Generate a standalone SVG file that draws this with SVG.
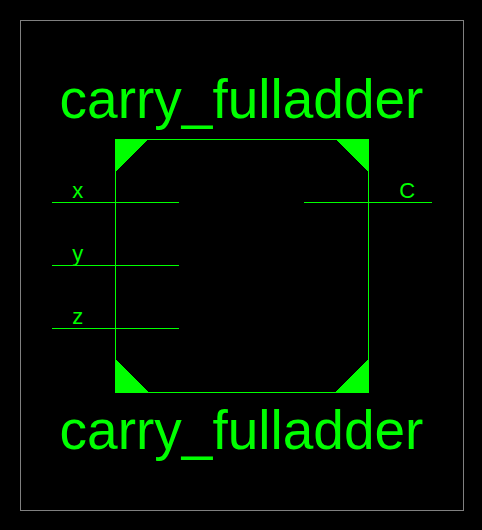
<svg xmlns="http://www.w3.org/2000/svg" width="482" height="530" viewBox="0 0 482 530">
<style>
.w{stroke:#0f0;stroke-width:1;fill:none;shape-rendering:crispEdges}
.c{fill:#0f0;stroke:none;shape-rendering:crispEdges}
.t{fill:#0f0;font-family:"Liberation Sans",Arial,sans-serif}
.big{font-size:55px;text-anchor:middle}
.pin{font-size:22px;text-anchor:middle}
</style>
<rect width="482" height="530" fill="#000"/>
<rect x="20.5" y="20.5" width="443" height="490" fill="none" stroke="#808080" stroke-width="1" shape-rendering="crispEdges"/>
<g id="cell">
<rect class="w" x="115.5" y="139.5" width="253" height="253"/>
<polygon class="c" points="115,139 149,139 115,172"/>
<polygon class="c" points="335,139 369,139 369,173"/>
<polygon class="c" points="115,359 150,393 115,393"/>
<polygon class="c" points="369,358 369,393 334,393"/>
<text class="t big" x="241.500" y="118">carry_fulladder</text>
<text class="t big" x="241.500" y="449">carry_fulladder</text>
</g>
<g id="connectors">
<line class="w" x1="52" y1="202.500" x2="179" y2="202.500"/>
<line class="w" x1="52" y1="265.500" x2="179" y2="265.500"/>
<line class="w" x1="52" y1="328.500" x2="179" y2="328.500"/>
<line class="w" x1="304" y1="202.500" x2="432" y2="202.500"/>
</g>
<g id="pin-x"><text class="t pin" x="77.800" y="198">x</text></g>
<g id="pin-y"><text class="t pin" x="77.800" y="261">y</text></g>
<g id="pin-z"><text class="t pin" x="77.800" y="324">z</text></g>
<g id="pin-C"><text class="t pin" x="407.300" y="198">C</text></g>
</svg>
